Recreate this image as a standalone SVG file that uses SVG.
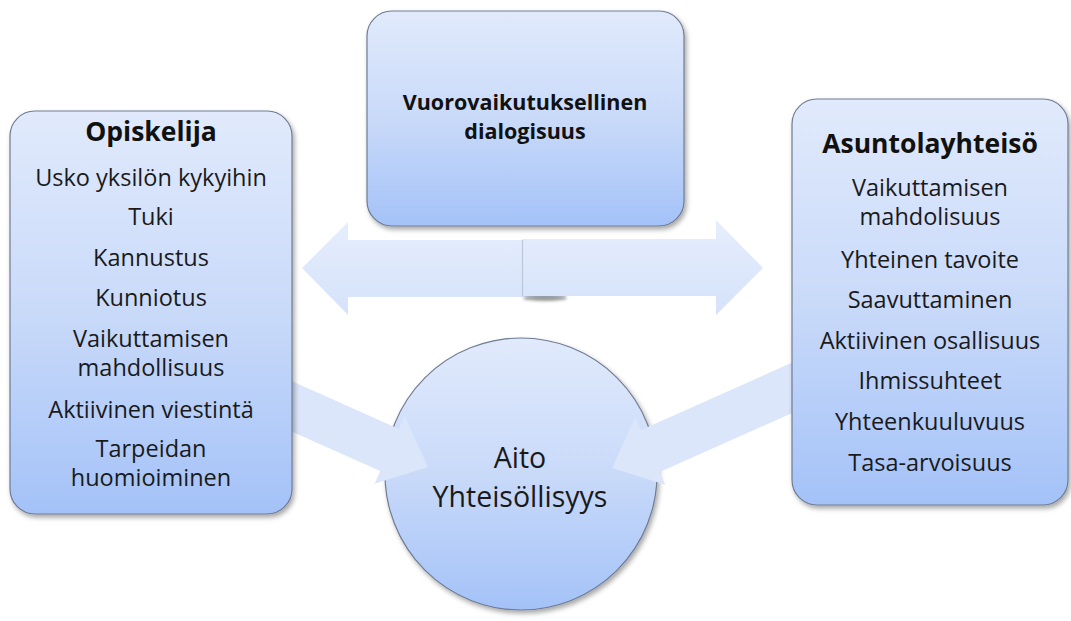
<svg xmlns="http://www.w3.org/2000/svg" width="1071" height="621" viewBox="0 0 1071 621">
<defs>
<linearGradient id="boxGrad" x1="0" y1="0" x2="0" y2="1">
<stop offset="0" stop-color="#e1eafc"/>
<stop offset="0.5" stop-color="#c9daf9"/>
<stop offset="1" stop-color="#a4c2f8"/>
</linearGradient>
<linearGradient id="arrowGrad" x1="0" y1="0" x2="0" y2="1">
<stop offset="0" stop-color="#e6eefd"/>
<stop offset="1" stop-color="#d5e2fa"/>
</linearGradient>
<filter id="shadow" x="-10%" y="-10%" width="125%" height="125%">
<feDropShadow dx="2" dy="3" stdDeviation="2.5" flood-color="#000" flood-opacity="0.35"/>
</filter>
<filter id="blur" x="-50%" y="-50%" width="200%" height="200%">
<feGaussianBlur stdDeviation="1.5"/>
</filter>
</defs>
<style>
.box{fill:url(#boxGrad);stroke:#6f7c93;stroke-width:1.2;filter:url(#shadow)}
.arrow{fill:url(#arrowGrad);stroke:none}
.diag{fill:#dbe6fb;stroke:none}
.t{font-family:"Open Sans",Lato,"Liberation Sans",sans-serif;font-size:23.5px;fill:#1a1a1a;text-anchor:middle}
.h{font-family:"Open Sans",Lato,"Liberation Sans",sans-serif;font-size:26.5px;font-weight:bold;fill:#111;text-anchor:middle}
.hc{font-family:"Open Sans",Lato,"Liberation Sans",sans-serif;font-size:21.5px;font-weight:bold;fill:#111;text-anchor:middle}
.c{font-family:"Open Sans",Lato,"Liberation Sans",sans-serif;font-size:28.5px;fill:#1a1a1a;text-anchor:middle}
</style>
<rect width="1071" height="621" fill="#ffffff"/>

<g id="connectors">
<g id="double-arrow">
<polygon class="arrow" points="302,268 348,222 348,240 566,240 566,297 348,297 348,315"/>
<ellipse cx="545" cy="298" rx="22" ry="3" fill="#555" opacity="0.6" filter="url(#blur)"/>
<polygon class="arrow" points="763,268 716,220 716,239 522,239 522,296 716,296 716,315"/>
<line x1="522.5" y1="240" x2="522.5" y2="296" stroke="#b9c6dc" stroke-width="1.2"/>
</g>
</g>

<g id="node-circle">
<circle cx="521" cy="474" r="136" class="box"/>
<text class="c" x="520" y="468">Aito</text>
<text class="c" x="520" y="507">Yhteisöllisyys</text>
</g>

<g id="diagonal-arrows">
<polygon class="diag" transform="translate(428,467) rotate(24)" points="0,0 -42,-37 -42,-23 -220,-23 -220,23 -42,23 -42,37"/>
<polygon class="diag" transform="translate(612,468) rotate(156)" points="0,0 -42,-37 -42,-23 -240,-23 -240,23 -42,23 -42,37"/>
</g>

<g id="node-center">
<rect x="367" y="11" width="317" height="215" rx="25" ry="25" class="box"/>
<text class="hc" x="525" y="110">Vuorovaikutuksellinen</text>
<text class="hc" x="525" y="139">dialogisuus</text>
</g>

<g id="node-left">
<rect x="10" y="111" width="282" height="403" rx="25" ry="25" class="box"/>
<text class="h" x="151" y="141">Opiskelija</text>
<text class="t" x="151" y="186">Usko yksilön kykyihin</text>
<text class="t" x="151" y="225">Tuki</text>
<text class="t" x="151" y="266">Kannustus</text>
<text class="t" x="151" y="306">Kunniotus</text>
<text class="t" x="151" y="347">Vaikuttamisen</text>
<text class="t" x="151" y="376">mahdollisuus</text>
<text class="t" x="151" y="418">Aktiivinen viestintä</text>
<text class="t" x="151" y="457">Tarpeidan</text>
<text class="t" x="151" y="486">huomioiminen</text>
</g>

<g id="node-right">
<rect x="792" y="99" width="276" height="406" rx="25" ry="25" class="box"/>
<text class="h" x="930" y="153">Asuntolayhteisö</text>
<text class="t" x="930" y="196">Vaikuttamisen</text>
<text class="t" x="930" y="225">mahdolisuus</text>
<text class="t" x="930" y="268">Yhteinen tavoite</text>
<text class="t" x="930" y="308">Saavuttaminen</text>
<text class="t" x="930" y="349">Aktiivinen osallisuus</text>
<text class="t" x="930" y="389">Ihmissuhteet</text>
<text class="t" x="930" y="430">Yhteenkuuluvuus</text>
<text class="t" x="930" y="471">Tasa-arvoisuus</text>
</g>
</svg>
